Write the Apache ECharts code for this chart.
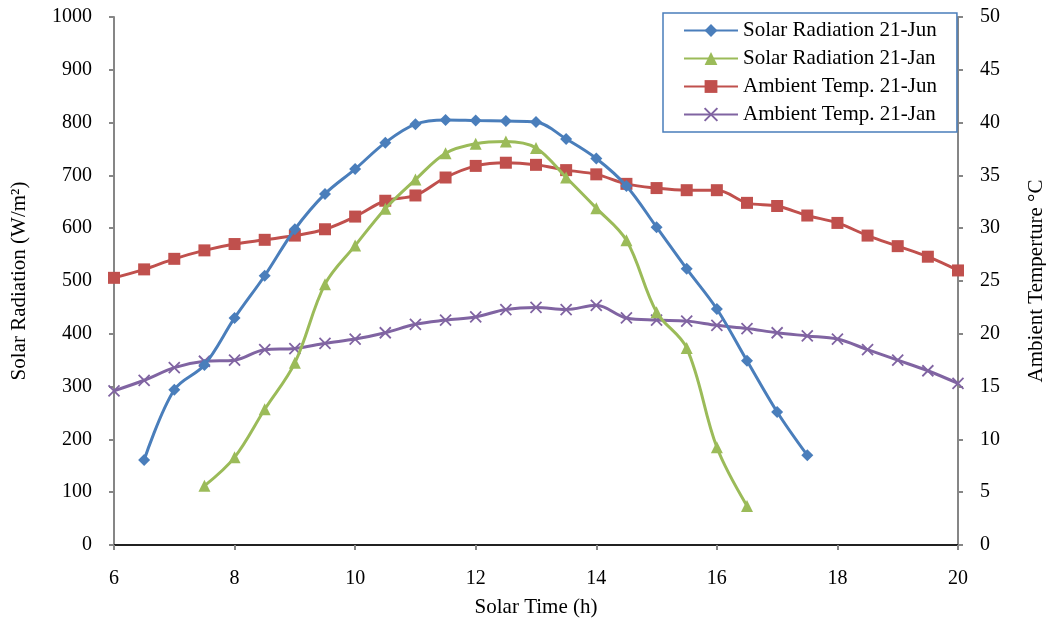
<!DOCTYPE html>
<html>
<head>
<meta charset="utf-8">
<script src="https://cdn.jsdelivr.net/npm/echarts@6/dist/echarts.min.js"></script>
<style>
html,body{margin:0;padding:0;background:#fff;}
#chart{width:1046px;height:619px;}
</style>
</head>
<body>
<div id="chart"></div>
<script>
// Data
const solarJunTime = [6.5,7,7.5,8,8.5,9,9.5,10,10.5,11,11.5,12,12.5,13,13.5,14,14.5,15,15.5,16,16.5,17,17.5];
const solarJun = [161,294,341,430,510,598,665,712,762,797,805,804,803,801,769,732,680,602,523,447,349,252,170];
const solarJanTime = [7.5,8,8.5,9,9.5,10,10.5,11,11.5,12,12.5,13,13.5,14,14.5,15,15.5,16,16.5];
const solarJan = [112,166,257,345,494,567,637,692,742,760,764,752,696,638,577,441,373,185,74];
const tempTime = [6,6.5,7,7.5,8,8.5,9,9.5,10,10.5,11,11.5,12,12.5,13,13.5,14,14.5,15,15.5,16,16.5,17,17.5,18,18.5,19,19.5,20];
const tempJun = [25.3,26.1,27.1,27.9,28.5,28.9,29.3,29.9,31.1,32.6,33.1,34.8,35.9,36.2,36.0,35.5,35.1,34.2,33.8,33.6,33.6,32.4,32.1,31.2,30.5,29.3,28.3,27.3,26.0];
const tempJan = [14.6,15.6,16.8,17.4,17.5,18.5,18.6,19.1,19.5,20.1,20.9,21.3,21.6,22.3,22.5,22.3,22.7,21.5,21.3,21.2,20.8,20.5,20.1,19.8,19.5,18.5,17.5,16.5,15.3];
const xTicks = [6,8,10,12,14,16,18,20];

const pair = (xs, ys) => xs.map((x, i) => [x, ys[i]]);
const FONT = 'Liberation Serif';
const AX = '#868686';
const TICK_FS = 20;
const TITLE_FS = 21;

const chart = echarts.init(document.getElementById('chart'));
chart.setOption({
  animation: false,
  backgroundColor: '#fff',
  textStyle: { fontFamily: FONT, color: '#000' },
  grid: { left: 114, right: 88, top: 17, bottom: 74, containLabel: false, outerBoundsMode: 'none' },
  legend: {
    left: 663, top: 13, orient: 'vertical',
    backgroundColor: '#fff', borderColor: '#4a7ebb', borderWidth: 1.5,
    padding: [7, 20, 7, 20],
    itemWidth: 54, itemHeight: 16, itemGap: 7,
    textStyle: { fontFamily: FONT, fontSize: 21, color: '#000', lineHeight: 20 },
    data: ['Solar Radiation 21-Jun','Solar Radiation 21-Jan','Ambient Temp. 21-Jun','Ambient Temp. 21-Jan']
  },
  xAxis: [{
    type: 'value', min: 6, max: 20, interval: 2,
    name: 'Solar Time (h)', nameLocation: 'middle', nameGap: 52,
    nameTextStyle: { fontFamily: FONT, fontSize: TITLE_FS, color: '#000' },
    axisLine: { lineStyle: { color: AX, width: 2 } },
    axisTick: { show: true, length: 5, lineStyle: { color: AX, width: 2 } },
    axisLabel: { fontFamily: FONT, fontSize: TICK_FS, color: '#000', margin: 24,
      formatter: v => xTicks.includes(v) ? String(v) : '' },
    splitLine: { show: false }
  }, {
    type: 'value', min: 6, max: 20, position: 'top',
    axisLine: { show: true, lineStyle: { color: '#000', width: 1.5 } },
    axisTick: { show: false }, axisLabel: { show: false }, splitLine: { show: false }
  }],
  yAxis: [{
    type: 'value', min: 0, max: 1000, interval: 100,
    name: 'Solar Radiation (W/m²)', nameLocation: 'middle', nameGap: 84, nameRotate: 90,
    nameTextStyle: { fontFamily: FONT, fontSize: TITLE_FS, color: '#000' },
    axisLine: { show: true, lineStyle: { color: AX, width: 2 } },
    axisTick: { show: true, length: 5, lineStyle: { color: AX, width: 2 } },
    axisLabel: { fontFamily: FONT, fontSize: TICK_FS, color: '#000', margin: 22, formatter: v => String(v) },
    splitLine: { show: false }
  }, {
    type: 'value', min: 0, max: 50, interval: 5, position: 'right',
    name: 'Ambient Temperture °C', nameLocation: 'middle', nameGap: 68, nameRotate: 90,
    nameTextStyle: { fontFamily: FONT, fontSize: TITLE_FS, color: '#000' },
    axisLine: { show: true, lineStyle: { color: AX, width: 2 } },
    axisTick: { show: true, length: 5, lineStyle: { color: AX, width: 2 } },
    axisLabel: { fontFamily: FONT, fontSize: TICK_FS, color: '#000', margin: 22, formatter: v => String(v) },
    splitLine: { show: false }
  }],
  series: [{
    name: 'Ambient Temp. 21-Jun', type: 'line', yAxisIndex: 1, smooth: 0.35,
    data: pair(tempTime, tempJun),
    symbol: 'rect', symbolSize: 12,
    lineStyle: { color: '#c0504d', width: 3 }, itemStyle: { color: '#c0504d' }, z: 2
  }, {
    name: 'Ambient Temp. 21-Jan', type: 'line', yAxisIndex: 1, smooth: 0.35,
    data: pair(tempTime, tempJan),
    symbol: 'path://M0,0L10,10M10,0L0,10', symbolSize: 11,
    lineStyle: { color: '#8064a2', width: 3 },
    itemStyle: { color: '#8064a2', borderColor: '#8064a2', borderWidth: 1.8 }, z: 2
  }, {
    name: 'Solar Radiation 21-Jan', type: 'line', smooth: 0.35,
    data: pair(solarJanTime, solarJan),
    symbol: 'triangle', symbolSize: 12,
    lineStyle: { color: '#9bbb59', width: 3 }, itemStyle: { color: '#9bbb59' }, z: 3
  }, {
    name: 'Solar Radiation 21-Jun', type: 'line', smooth: 0.35,
    data: pair(solarJunTime, solarJun),
    symbol: 'diamond', symbolSize: 12,
    lineStyle: { color: '#4a7ebb', width: 3 }, itemStyle: { color: '#4a7ebb' }, z: 4
  }]
});
</script>
</body>
</html>
